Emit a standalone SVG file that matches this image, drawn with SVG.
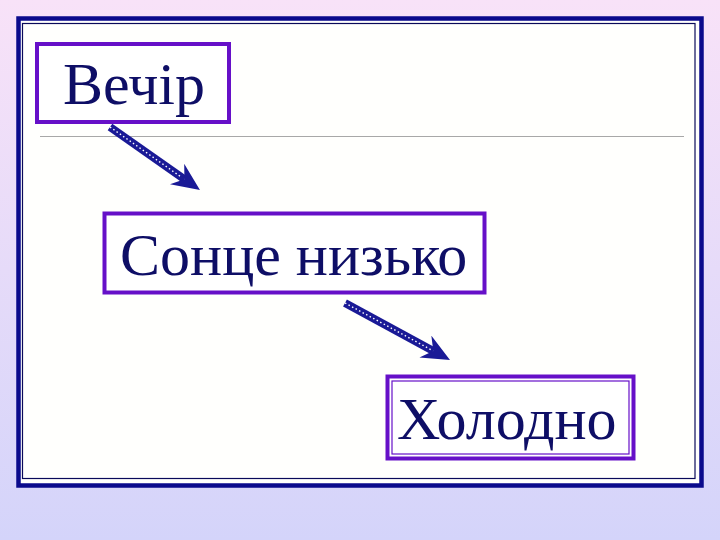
<svg xmlns="http://www.w3.org/2000/svg" width="720" height="540" viewBox="0 0 720 540">
  <defs>
    <linearGradient id="bg" x1="0" y1="0" x2="0" y2="1">
      <stop offset="0" stop-color="#F8E2F8"/>
      <stop offset="1" stop-color="#D4D4FA"/>
    </linearGradient>
    <marker id="head" viewBox="-28 -12.5 28 25" refX="-19" refY="0" markerWidth="28" markerHeight="25" markerUnits="userSpaceOnUse" orient="auto">
      <path d="M0,0 L-28,-12.5 L-19,0 L-28,12.5 Z" fill="#1A1A96"/>
    </marker>
    <style>
      .lbl { font-family: "Liberation Serif", "Times New Roman", serif; font-size: 60px; fill: #0E0E66; }
      .box { fill: #FFFFFF; stroke: #6610C8; stroke-width: 4; }
      .shaft { fill: none; stroke: #1A1A96; stroke-width: 8; }
      .dots { fill: none; stroke: #FFFFFF; stroke-width: 1.4; stroke-dasharray: 1.5 2.5; }
    </style>
  </defs>
  <rect x="0" y="0" width="720" height="540" fill="url(#bg)"/>
  <g id="frame">
    <rect x="18.5" y="18.5" width="683" height="467" fill="#FFFFFD" stroke="#0A0A8C" stroke-width="4.5"/>
    <rect x="22.5" y="23.5" width="672.5" height="455" fill="none" stroke="#0A0A5A" stroke-width="1.2"/>
    <line x1="40" y1="136.5" x2="684" y2="136.5" stroke="#A8A8A8" stroke-width="1.2"/>
  </g>
  <g id="connectors">
    <path class="shaft" d="M110,127 L184.4,179.2" marker-end="url(#head)"/>
    <path class="dots" d="M110,127 L182,177.6"/>
    <path class="shaft" d="M345,303 L433.3,350.9" marker-end="url(#head)"/>
    <path class="dots" d="M345,303 L431,349.7"/>
  </g>
  <g id="node-vechir">
    <rect class="box" x="37" y="44" width="192" height="78"/>
    <text class="lbl" x="63" y="104">Вечір</text>
  </g>
  <g id="node-sontse">
    <rect class="box" x="104.5" y="213.5" width="380" height="79"/>
    <text class="lbl" x="120" y="275">Сонце низько</text>
  </g>
  <g id="node-kholodno">
    <rect class="box" x="387.5" y="376.5" width="246" height="82" stroke-width="3"/>
    <rect x="392" y="381" width="237" height="73" fill="none" stroke="#6610C8" stroke-width="1.2"/>
    <text class="lbl" x="397" y="439">Холодно</text>
  </g>
</svg>
